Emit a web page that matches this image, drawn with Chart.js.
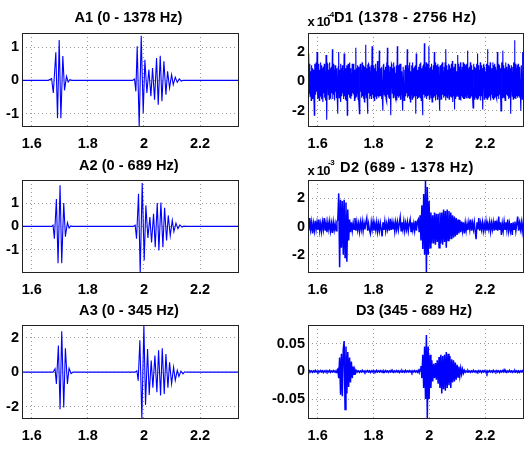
<!DOCTYPE html>
<html><head><meta charset="utf-8">
<script src="https://cdn.jsdelivr.net/npm/chart.js@4"></script>
<style>
html,body{margin:0;padding:0;background:#fff;}
body{width:530px;height:450px;overflow:hidden;position:relative;font-family:"Liberation Sans",Arial,Helvetica,sans-serif;}
canvas{position:absolute;left:0;top:0;}
.t{position:absolute;font-weight:bold;white-space:nowrap;color:#000;}
</style></head><body>
<canvas id="cA1" width="530" height="450"></canvas>
<canvas id="cA2" width="530" height="450"></canvas>
<canvas id="cA3" width="530" height="450"></canvas>
<canvas id="cD1" width="530" height="450"></canvas>
<canvas id="cD2" width="530" height="450"></canvas>
<canvas id="cD3" width="530" height="450"></canvas>
<script>
// ---------------- data ----------------
const X_MIN = 1.5654, X_MAX = 2.339;
const X_TICKS = [1.6, 1.8, 2, 2.2];
const X_TICK_LABELS = ['1.6', '1.8', '2', '2.2'];

const TITLES = ['A1 (0 - 1378 Hz)', 'A2 (0 - 689 Hz)', 'A3 (0 - 345 Hz)',
                'D1 (1378 - 2756 Hz)', 'D2 (689 - 1378 Hz)', 'D3 (345 - 689 Hz)'];

const A1_T = [1.5654, 1.659, 1.671, 1.677, 1.686, 1.692, 1.698, 1.704, 1.711, 1.717, 1.724, 1.730, 1.736, 1.743,
  1.9594, 1.9665, 1.9713, 1.9761, 1.9832, 1.9904, 1.9975, 2.0035, 2.0106, 2.0177, 2.0249, 2.0308, 2.0380, 2.0451,
  2.0511, 2.0582, 2.0642, 2.0713, 2.0785, 2.0844, 2.0915, 2.0987, 2.1046, 2.1118, 2.1189, 2.1261, 2.1332, 2.1404, 2.339];
const A1_V = [0, 0, 0.05, -0.38, 0.84, -1.14, 1.21, -1.14, 0.73, -0.30, 0.12, -0.05, 0.02, 0,
  0, 0.04, -0.33, 1.02, -1.40, 1.34, -0.98, 0.62, -0.38, 0.32, -0.48, 0.37, -0.58, 0.67,
  -0.73, 0.74, -0.63, 0.57, -0.43, 0.27, -0.23, 0.17, -0.13, 0.09, -0.06, 0.04, -0.02, 0, 0];

const A2_T = [1.5654, 1.6713, 1.6761, 1.6808, 1.6880, 1.6939, 1.7011, 1.7070, 1.7142, 1.7201, 1.7273, 1.7332, 1.7392, 1.7451,
  1.9618, 1.9689, 1.9737, 1.9808, 1.9868, 1.9939, 2.0011, 2.0070, 2.0142, 2.0213, 2.0273, 2.0344, 2.0404, 2.0475, 2.0535,
  2.0606, 2.0677, 2.0737, 2.0808, 2.0868, 2.0939, 2.1011, 2.1070, 2.1142, 2.1213, 2.1285, 2.1356, 2.1427, 2.1499, 2.339];
const A2_V = [0, 0, 0.05, -0.53, 1.17, -1.58, 1.76, -1.58, 1.0, -0.44, 0.16, -0.07, 0.02, 0,
  0, 0.05, -0.53, 1.40, -2.0, 1.86, -1.46, 0.9, -0.5, 0.4, -0.69, 0.54, -0.89, 1.0, -1.03,
  1.02, -0.89, 0.8, -0.6, 0.47, -0.4, 0.26, -0.22, 0.14, -0.1, 0.06, -0.03, 0.01, 0, 0];

const A3_T = [1.5654, 1.6761, 1.6832, 1.6880, 1.6951, 1.7011, 1.7070, 1.7142, 1.7201, 1.7273, 1.7332, 1.7404, 1.7475,
  1.9689, 1.9749, 1.9796, 1.9856, 1.9927, 1.9999, 2.0058, 2.0130, 2.0189, 2.0261, 2.0320, 2.0392, 2.0463, 2.0523, 2.0594,
  2.0654, 2.0725, 2.0785, 2.0856, 2.0915, 2.0987, 2.1058, 2.1118, 2.1189, 2.1249, 2.1320, 2.1392, 2.1451, 2.1523, 2.339];
const A3_V = [0, 0, 0.2, -0.68, 1.55, -2.15, 2.38, -2.05, 1.39, -0.68, 0.22, -0.08, 0,
  0, 0.08, -0.5, 1.86, -2.72, 2.74, -1.9, 1.35, -1.32, 0.68, -0.91, 0.96, -1.17, 1.27, -1.35,
  1.39, -1.26, 1.06, -0.9, 0.58, -0.68, 0.29, -0.48, 0.1, -0.25, 0.06, -0.1, 0.02, 0, 0];

// detail signals, uniformly sampled over [X_MIN, X_MAX]
const D1_V = [ // x 1e-4
  0.9, -1.1, 1.9, -0.8, 1.2, -1.0, 0.7, -1.3, 1.1, -0.6, 0.9, -1.2, 0.8, -1.0, -2.3, 1.2, 1.0, -0.9, 1.3, -0.7,
  2.0, -1.2, 0.9, -1.1, 1.2, -1.3, 0.8, -1.0, 1.3, -0.6, 1.1, -1.2, 0.9, -1.4, 1.0, -0.8, 1.2, -1.1, 0.7, -1.3,
  1.8, -1.0, -2.6, 1.2, 1.1, -0.9, 0.8, -1.2, 1.3, -1.0, 0.9, -1.1, 1.0, -0.8, 2.2, -1.2, 1.2, -0.9, 0.8, -1.3,
  1.1, -0.7, 1.0, -1.1, 0.9, -1.3, -2.2, 1.0, 2.0, -1.1, 0.8, -0.9, 1.2, -1.4, 0.9, -1.0, 1.1, -0.8, 0.7, -1.2,
  1.9, -1.0, 1.0, -1.2, 0.9, -1.3, 1.1, -2.3, 0.8, 1.2, -0.9, 1.0, 1.3, -1.1, 0.9, -1.2, 0.6, -1.0, 1.2, -0.8,
  1.0, -0.9, 1.2, -1.3, 0.8, -1.1, 2.3, -1.0, 0.9, -0.8, 1.1, -1.2, 1.0, -1.3, -2.2, 0.9, 1.2, -0.7, 0.8, -1.1,
  1.3, -1.0, 1.1, -1.2, 0.8, -1.4, 1.0, -0.9, 2.5, -1.1, 0.9, -1.0, -2.2, 1.1, 1.2, -0.8, 1.0, -1.2, 0.7, -1.0,
  1.1, -1.2, 2.4, -0.9, 0.8, -1.1, 1.1, -1.3, 0.9, -1.0, 1.2, -0.8, 0.7, -1.2, 1.4, -1.0, 0.9, -1.1, 2.1, -1.0,
  0.9, -1.0, 0.8, -1.2, 1.0, -1.3, -2.0, 1.1, 1.2, -0.9, 0.8, -1.0, 1.0, -1.2, 1.3, -1.4, 2.3, -0.9, 1.1, -1.1,
  0.7, -1.2, 1.0, -1.0, -2.3, 1.2, 1.1, -0.8, 0.9, -1.1, 1.3, -0.9, 1.0, -1.0, 0.6, -1.2, 1.1, -1.3, 2.4, -1.0,
  1.1, -1.1, 0.9, -1.0, 1.2, -1.2, 1.2, -0.9, 0.7, -1.1, -2.0, 1.0, 1.0, -1.3, 0.8, -1.2, 1.1, -1.0, 0.9, -0.8,
  2.2, -1.1, 0.9, -1.0, 1.1, -1.2, 1.3, -1.4, 0.7, -0.9, 1.1, -1.2, 1.3, -0.8, 0.9, -1.1, 1.0, -1.0, 1.1, -2.2,
  1.9, -1.0, 0.8, -1.2, 0.8, -1.1, 1.0, -1.0, 1.2, -1.1, 1.3, -1.3, 0.9, -1.0, -2.3, 1.0, 1.1, -0.9, 2.6, -1.1,
  1.0, -1.0, 1.3, -1.2, 1.2, -1.0, 0.6, -0.9, 2.4, -1.2, 0.9, -0.9, 1.0, -1.1, 1.2, -1.4, 0.8, -1.0, 1.1, -1.1,
  2.0, -1.0, 1.3, -1.3, 1.1, -0.9, 0.8, -1.2, 1.2, -1.0, 1.0, -1.0, -2.0, 1.1, 0.9, -1.2, 1.2, -1.2, 1.3, -0.9,
  0.7, -1.1, 1.0, -1.0, 1.3, -1.3, 2.2, -1.0, 1.1, -1.1, 0.8, -0.9, 1.2, -1.2, 1.1, -1.0, 0.9, -0.9, 1.2, -1.1,
  1.4, -1.4, 0.9, -1.0, 1.0, -1.9, 1.2, -1.2, 1.0, -1.0, 0.7, -0.9, 1.8, -1.0, 1.2, -1.2, 1.0, -1.1, 1.3, -1.3,
  0.8, -1.0, 1.0, -1.1, 1.3, -1.2, 1.2, -1.2, 0.9, -1.0, 1.1, -1.1, 1.2, -0.9, 2.1, -1.1, 0.9, -1.0, 1.0, -1.2,
  1.3, -1.1, 1.1, -1.0, 0.8, -1.1, -1.8, 1.0, 1.2, -1.2, 1.0, -1.0, 0.9, -1.1, 1.2, -1.2, 1.9, -1.0, 1.1, -1.1,
  0.8, -1.0, 1.3, -1.3, 1.1, -1.0, 0.9, -0.9, -1.9, 1.1, 1.2, -1.2, 1.0, -1.0, 0.7, -1.1, 1.2, -1.2, 2.2, -1.0,
  1.1, -1.1, 1.0, -1.0, 1.3, -1.3, 0.9, -0.9, 0.8, -1.1, 1.3, -1.2, 1.1, -1.1, 1.2, -1.0, 1.0, -1.0, 0.8, -1.2,
  2.0, -1.0, 1.2, -1.2, 1.1, -0.9, 0.9, -1.0, -2.0, 1.2, 1.3, -1.1, 2.1, -1.0, 1.1, -1.1, 0.9, -1.3, 1.3, -1.0,
  1.0, -0.9, 0.8, -1.0, 1.2, -1.2, 1.1, -1.1, 0.9, -1.0, -2.2, 1.1, 1.1, -1.0, 1.0, -1.2, 1.3, -1.1, 2.8, -1.0,
  1.2, -1.2, 0.9, -1.0, 1.1, -1.1, 1.2, -1.0, 0.9, -1.1, 1.0, -1.0, -2.0, 1.1, 1.1, -1.2, 2.0, -1.1, 1.3, -1.3];

const D2_V = [ // x 1e-3
  0.2, -0.3, 0.6, -0.2, 0.3, -0.5, 0.2, -0.3, 0.4, -0.2,
  0.3, -0.25, 0.5, -0.3, 0.2, -0.35, 0.3, -0.2, 0.6, -0.3,
  0.25, -0.4, 0.3, -0.2, 0.35, -0.3, 0.2, -0.45, 0.3, -0.25,
  0.2, -0.3, 0.35, 0.5, 2.35, -2.9, 1.9, -1.5, 1.8, -2.0,
  1.9, -2.2, 1.7, -2.5, 1.2, -1.0, 0.5, -0.4, 0.3, -0.3,
  0.25, -0.2, 0.6, -0.3, 0.3, -0.25, 0.2, -0.35, 0.3, -0.2,
  0.35, -0.3, 0.25, -0.2, 0.3, 0.6, -0.3, 0.2, -0.25, -0.5,
  0.3, -0.2, 0.35, -0.3, 0.2, -0.25, 0.3, -0.35, 0.2, -0.3,
  0.25, -0.2, -0.7, 0.3, -0.25, 0.35, -0.3, 0.2, -0.2, 0.3,
  -0.3, 0.55, -0.25, 0.3, -0.2, 0.25, -0.35, 0.3, -0.2, 0.3,
  -0.25, 0.2, 0.65, -0.3, 0.3, -0.2, 0.35, -0.3, 0.25, -0.2,
  0.3, -0.3, 0.2, 0.5, -0.35, 0.3, -0.25, 0.2, -0.3, 0.4,
  -0.3, 0.35, 0.5, -0.4, 0.8, -1.0, 1.5, -1.6, 2.3, -2.0,
  3.3, -3.3, 2.8, -2.0, 1.8, -1.5, 1.0, -1.2, 0.8, -1.2,
  1.0, -1.3, 0.9, -1.1, 0.9, -1.5, 1.0, -1.2, 1.0, -1.3,
  1.2, -1.1, 1.1, -1.5, 1.2, -1.0, 1.1, -0.9, 1.0, -0.9,
  0.8, -0.8, 0.7, -0.7, 0.6, -0.6, 0.5, -0.5, 0.45, -0.4,
  0.35, -0.3, 0.3, -0.5, 0.25, -0.3, 0.2, -0.25, 0.3, -0.2,
  0.5, -0.3, 0.25, -0.2, 0.3, -0.35, -0.9, 0.3, -0.2, 0.6,
  -0.3, 0.25, -0.2, 0.3, -0.3, 0.2, -0.25, 0.35, -0.3, 0.2,
  -0.2, 0.3, -0.35, 0.25, -0.2, 0.3, -0.3, 0.4, -0.25, 0.2,
  -0.3, 0.7, -0.25, 0.3, -0.6, 0.2, -0.3, 0.35, -0.2, 0.3,
  -0.25, 0.5, -0.3, 0.2, -0.3, 0.25, -0.6, 0.3, -0.2, 0.35,
  -0.3, 0.2, 0.7, -0.3, 0.25, -0.2, 0.3, -0.35, 0.25, -0.2];

const D3_V = [
  0.001, -0.001, 0.0015, -0.001, 0.001, -0.0015, 0.001, -0.001, 0.002, -0.001,
  0.001, -0.0015, 0.001, -0.001, 0.0015, -0.001, 0.001, -0.002, 0.001, -0.001,
  0.0015, -0.001, 0.001, -0.001, 0.002, -0.0015, 0.001, -0.001, 0.0015, -0.001,
  0.001, -0.002, 0.002, 0.004, -0.012, 0.025, -0.042, 0.032, -0.045, 0.04,
  0.055, -0.069, 0.045, -0.04, 0.035, -0.028, 0.025, -0.02, 0.018, -0.012,
  0.009, -0.005, 0.003, -0.002, 0.0015, -0.001, 0.001, -0.0015, 0.001, -0.001,
  0.002, -0.001, 0.001, -0.0015, 0.001, -0.001, 0.0015, -0.001, 0.001, -0.002,
  0.001, -0.001, 0.0015, -0.001, 0.001, -0.0015, 0.002, -0.001, 0.001, -0.001,
  0.0015, -0.001, 0.001, -0.002, 0.001, -0.001, 0.0015, -0.001, 0.001, -0.0015,
  0.001, -0.001, 0.002, -0.001, 0.001, -0.0015, 0.001, -0.001, 0.0015, -0.001,
  0.001, -0.002, 0.001, -0.001, 0.0015, -0.001, 0.001, -0.0015, 0.002, -0.001,
  0.001, -0.001, 0.0015, -0.001, 0.001, -0.002, 0.001, -0.001, 0.0015, -0.001,
  0.001, -0.0015, 0.002, -0.002, 0.004, 0.01, -0.012, 0.03, -0.03, 0.045,
  -0.05, 0.066, -0.085, 0.045, -0.05, 0.03, -0.03, 0.02, -0.018, 0.014,
  -0.012, 0.015, -0.015, 0.02, -0.022, 0.026, -0.03, 0.03, -0.04, 0.028,
  -0.032, 0.03, -0.035, 0.035, -0.03, 0.032, -0.025, 0.028, -0.03, 0.022,
  -0.02, 0.02, -0.018, 0.016, -0.015, 0.012, -0.01, 0.009, -0.008, 0.006,
  -0.005, 0.004, -0.003, 0.002, -0.0015, 0.001, -0.001, 0.0015, -0.001, 0.001,
  -0.0015, 0.001, -0.001, 0.002, -0.001, 0.001, -0.0015, 0.001, -0.001, 0.0015,
  -0.001, 0.001, -0.002, 0.001, -0.001, 0.0015, -0.001, 0.001, -0.003, 0.001,
  -0.001, 0.0015, -0.001, 0.001, -0.0015, 0.002, -0.001, 0.001, -0.001, 0.0015,
  -0.001, 0.001, -0.002, 0.001, -0.001, 0.0015, -0.001, 0.003, -0.001, 0.001,
  -0.0015, 0.001, -0.001, 0.002, -0.001, 0.001, -0.0015, 0.001, -0.001, 0.0015,
  -0.001, 0.001, -0.002, 0.001, -0.0015, 0.001, -0.001, 0.0015, -0.001, 0.001];

const Y_TICKS = {A1: [-1, 0, 1], A2: [-1, 0, 1], A3: [-2, 0, 2], D1: [-2, 0, 2], D2: [-2, 0, 2], D3: [-0.05, 0, 0.05]};
const Y_TICK_LABELS = {A1: ['-1', '0', '1'], A2: ['-1', '0', '1'], A3: ['-2', '0', '2'],
                       D1: ['-2', '0', '2'], D2: ['-2', '0', '2'], D3: ['-0.05', '0', '0.05']};
const Y_LIMITS = {A1: [-1.4, 1.42], A2: [-2.0, 1.99], A3: [-2.72, 2.74], D1: [-3.1, 3.3], D2: [-3.3, 3.3], D3: [-0.086, 0.084]};

// ---------------- layout ----------------
const BOX = {
  A1: {L: 22, R: 239, T: 33, B: 127, YW: 20}, A2: {L: 22, R: 239, T: 180, B: 273, YW: 20}, A3: {L: 22, R: 239, T: 325, B: 419, YW: 20},
  D1: {L: 308, R: 524, T: 33, B: 127, YW: 48}, D2: {L: 308, R: 524, T: 180, B: 273, YW: 48}, D3: {L: 308, R: 524, T: 325, B: 419, YW: 48}
};
const XH = 25, W = 530, H = 450;
const FONT = {family: '"Liberation Sans", Arial, Helvetica, sans-serif', size: 14.5, weight: 'bold'};
const LINE_COLOR = '#0000ff';

const boxPlugin = {
  id: 'box',
  afterDraw(chart) {
    const a = chart.chartArea, ctx = chart.ctx;
    ctx.save();
    ctx.strokeStyle = '#222';
    ctx.lineWidth = 1;
    ctx.strokeRect(Math.round(a.left) + 0.5, Math.round(a.top) + 0.5,
                   Math.round(a.right - a.left) - 1, Math.round(a.bottom - a.top) - 1);
    ctx.restore();
  }
};

function pairs(ts, vs) { return ts.map((t, i) => ({x: t, y: vs[i]})); }
function uniform(vs) {
  const n = vs.length;
  return vs.map((v, i) => ({x: X_MIN + i * (X_MAX - X_MIN) / (n - 1), y: v}));
}

function makePanel(key, points, lw) {
  const b = BOX[key];
  const yt = Y_TICKS[key], yl = Y_TICK_LABELS[key];
  new Chart(document.getElementById('c' + key), {
    type: 'line',
    data: {datasets: [{data: points, borderColor: LINE_COLOR, borderWidth: lw, pointRadius: 0, tension: 0, fill: false}]},
    options: {
      responsive: false, animation: false, devicePixelRatio: 1,
      layout: {padding: {left: b.L - b.YW, right: W - b.R, top: b.T, bottom: H - b.B - XH}},
      plugins: {legend: {display: false}, tooltip: {enabled: false}, title: {display: false}},
      events: [],
      scales: {
        x: {
          type: 'linear', min: X_MIN, max: X_MAX,
          afterBuildTicks: s => { s.ticks = X_TICKS.map(v => ({value: v})); },
          afterFit: s => { s.height = XH; },
          ticks: {autoSkip: false, maxRotation: 0, padding: 8, color: '#000', font: FONT,
                  callback: (v) => X_TICK_LABELS[X_TICKS.indexOf(v)] ?? ''},
          grid: {color: '#9a9a9a', lineWidth: 1, drawTicks: false},
          border: {display: false, dash: [1, 3]}
        },
        y: {
          type: 'linear', min: Y_LIMITS[key][0], max: Y_LIMITS[key][1],
          afterBuildTicks: s => { s.ticks = yt.map(v => ({value: v})); },
          afterFit: s => { s.width = b.YW; },
          ticks: {autoSkip: false, padding: 3, color: '#000', font: FONT,
                  callback: (v) => yl[yt.indexOf(v)] ?? ''},
          grid: {color: '#9a9a9a', lineWidth: 1, drawTicks: false},
          border: {display: false, dash: [1, 3]}
        }
      }
    },
    plugins: [boxPlugin]
  });
}

makePanel('A1', pairs(A1_T, A1_V), 1.1);
makePanel('A2', pairs(A2_T, A2_V), 1.1);
makePanel('A3', pairs(A3_T, A3_V), 1.1);
makePanel('D1', uniform(D1_V), 1.1);
makePanel('D2', uniform(D2_V), 1.5);
makePanel('D3', uniform(D3_V), 1.5);

// ---------------- titles (real text) ----------------
function addText(txt, left, baseline, size, center, ls) {
  const d = document.createElement('div');
  d.className = 't';
  d.textContent = txt;
  d.style.fontSize = size + 'px';
  d.style.lineHeight = size + 'px';
  if (ls) d.style.letterSpacing = ls + 'px';
  d.style.top = (baseline - 0.8465 * size) + 'px';
  if (center) { d.style.left = (left - 150) + 'px'; d.style.width = '300px'; d.style.textAlign = 'center'; }
  else d.style.left = left + 'px';
  document.body.appendChild(d);
}
addText(TITLES[0], 128.5, 22, 14.6, true);
addText(TITLES[1], 128.8, 170, 14.6, true);
addText(TITLES[2], 129, 315, 14.6, true);
addText(TITLES[3], 334, 22, 14.6, false, 0.55);
addText(TITLES[4], 340, 172, 14.6, false, 0.55);
addText(TITLES[5], 414, 315, 14.6, true);
addText('x 10', 307.5, 26.5, 13, false, -0.8);
addText('-4', 327.5, 18, 8, false, -0.4);
addText('x 10', 307.5, 175, 13, false, -0.8);
addText('-3', 328, 166, 8, false, -0.4);
</script>
</body></html>
